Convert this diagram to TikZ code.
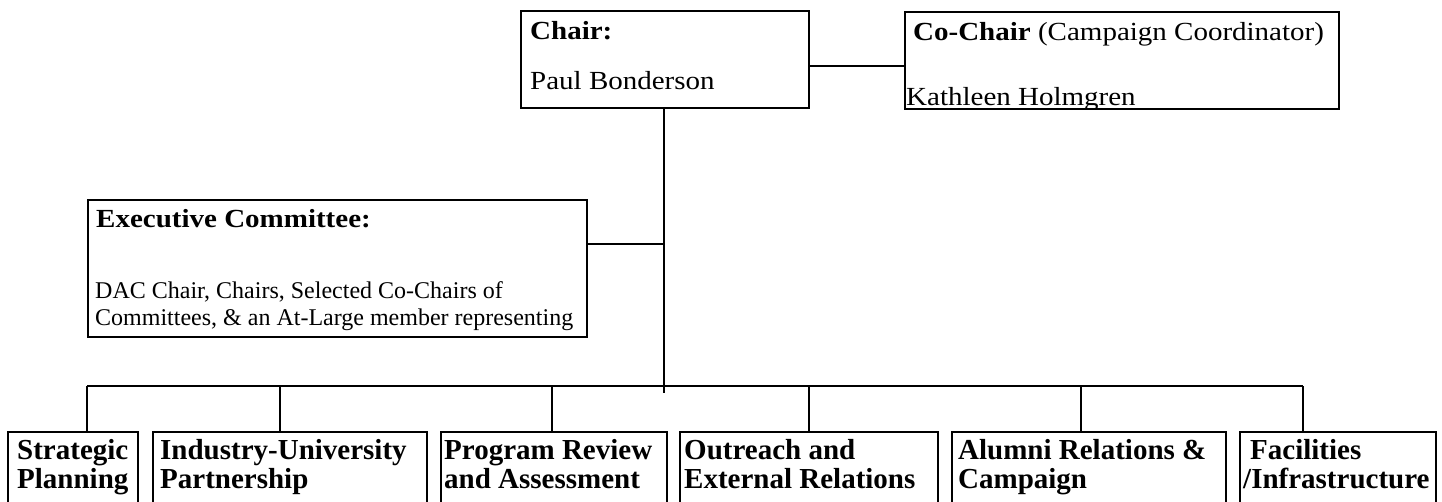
\documentclass[tikz,border=0pt]{standalone}
\usepackage{fontspec}
\setmainfont{Liberation Serif}
\usepackage{graphicx}
\newcommand{\sqz}[1]{\scalebox{1}[0.9]{#1}}
\begin{document}
\begin{tikzpicture}[x=1pt,y=-1pt,
  box/.style={draw=black, line width=2pt, inner sep=0pt, anchor=north west},
  link/.style={draw=black, line width=1.4pt},
  lbl/.style={anchor=base west, inner sep=0pt, font=\fontsize{29}{29}\selectfont},
  bld/.style={anchor=base west, inner sep=0pt, font=\fontsize{29}{29}\selectfont\bfseries},
  sm/.style={anchor=base west, inner sep=0pt, font=\fontsize{24}{24}\selectfont}]
\useasboundingbox (0,0) rectangle (1442,501);
\clip (0,0) rectangle (1442,501);

% top boxes
\node[box, minimum width=288pt, minimum height=97pt] (chair) at (520,10) {};
\node[box, minimum width=434pt, minimum height=97pt] (cochair) at (904,11) {};
\node[box, minimum width=499pt, minimum height=137pt] (exec) at (87,199) {};

% texts
\node[bld] (chairT) at (530,39) {\sqz{Chair:}};
\node[lbl] (chairN) at (530,89) {\sqz{Paul Bonderson}};
\node[lbl] (cochairT) at (913,40) {\sqz{\textbf{Co-Chair} (Campaign Coordinator)}};
\begin{scope}
  \clip (904,11) rectangle (1338,107);
  \node[lbl] (cochairN) at (906,105) {\sqz{Kathleen Holmgren}};
\end{scope}
\node[bld] (execT) at (96,227) {\sqz{Executive Committee:}};
\node[sm] (execA) at (95,298) {DAC Chair, Chairs, Selected Co-Chairs of};
\node[sm] (execB) at (95,325) {Committees, \& an At-Large member representing};

% bottom boxes
\node[box, minimum width=130pt, minimum height=100pt] (b1) at (7,431) {};
\node[box, minimum width=274pt, minimum height=100pt] (b2) at (152,431) {};
\node[box, minimum width=226pt, minimum height=100pt] (b3) at (440,431) {};
\node[box, minimum width=258pt, minimum height=100pt] (b4) at (679,431) {};
\node[box, minimum width=274pt, minimum height=100pt] (b5) at (951,431) {};
\node[box, minimum width=196pt, minimum height=100pt] (b6) at (1239,431) {};

\node[bld] (b1a) at (17,459) {Strategic};
\node[bld] (b1b) at (17,488) {Planning};
\node[bld] (b2a) at (160,459) {Industry-University};
\node[bld] (b2b) at (160,488) {Partnership};
\node[bld] (b3a) at (444,459) {Program Review};
\node[bld] (b3b) at (444,488) {and Assessment};
\node[bld] (b4a) at (684,459) {Outreach and};
\node[bld] (b4b) at (684,488) {External Relations};
\node[bld] (b5a) at (958,459) {Alumni Relations \&};
\node[bld] (b5b) at (958,488) {Campaign};
\node[bld] (b6a) at (1250,459) {Facilities};
\node[bld] (b6b) at (1243,488) {/Infrastructure};

% connector coordinates
\coordinate (cc) at (856,66);
\coordinate (trunkEnd) at (664,393);
\coordinate (execJ) at (664,244);
\coordinate (busL) at (87,386);
\coordinate (busR) at (1303,386);

% connectors
\draw[link] (chair.east |- cc) -- (cochair.west |- cc);
\draw[link] (chair.south -| trunkEnd) -- (trunkEnd);
\draw[link] (exec.east |- execJ) -- (execJ);
\draw[link] (busL) -- (busR);
\draw[link] (b1.north -| busL) -- (busL);
\draw[link] (b2.north -| 280,0) -- (280,386);
\draw[link] (b3.north -| 552,0) -- (552,386);
\draw[link] (b4.north -| 809,0) -- (809,386);
\draw[link] (b5.north -| 1081,0) -- (1081,386);
\draw[link] (b6.north -| busR) -- (busR);
\end{tikzpicture}
\end{document}
